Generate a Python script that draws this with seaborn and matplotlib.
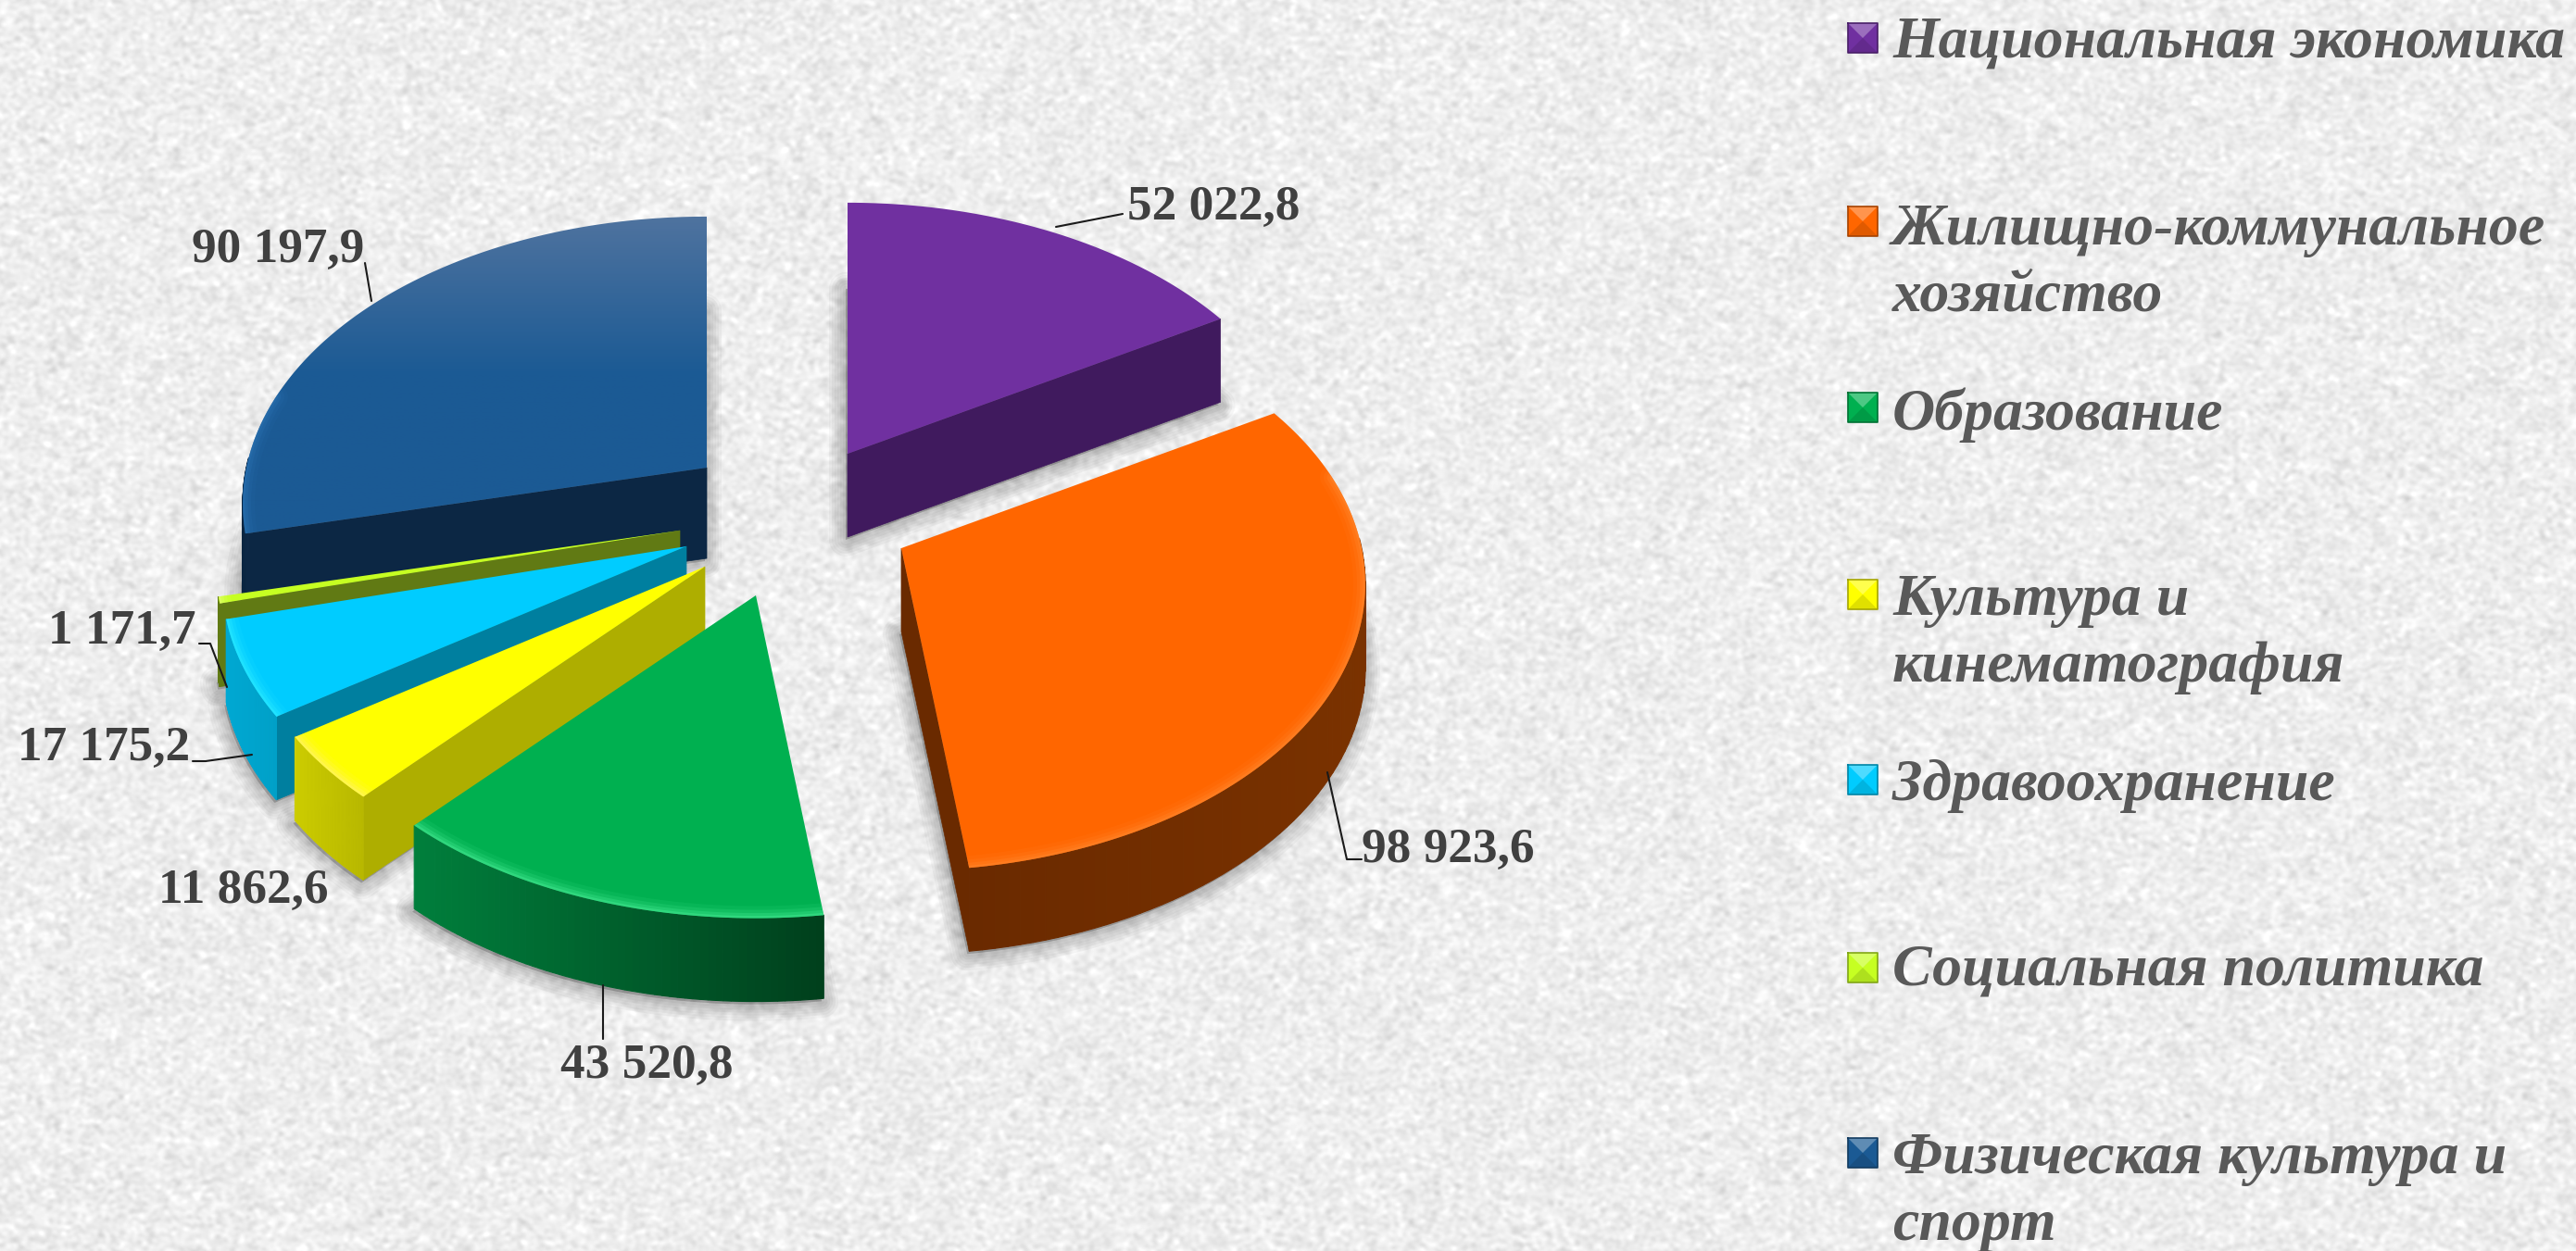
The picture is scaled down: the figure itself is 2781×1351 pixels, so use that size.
import numpy as np
import matplotlib
matplotlib.use("Agg")
import matplotlib.pyplot as plt
from matplotlib.colors import to_rgb
from matplotlib.patches import Polygon
import seaborn as sns

# ---------- data ----------
categories = ["Национальная экономика", "Жилищно-коммунальное\nхозяйство", "Образование",
              "Культура и\nкинематография", "Здравоохранение", "Социальная политика",
              "Физическая культура и\nспорт"]
values = [52022.8, 98923.6, 43520.8, 11862.6, 17175.2, 1171.7, 90197.9]

# ---------- styles / layout (pixels of the 2781x1351 canvas) ----------
top_colors = ["#7030a0", "#ff6600", "#00b050", "#ffff00", "#00ccff", "#c6ff22", "#1b5a94"]
wall_left = ["#3f1a5c", "#6a2a00", "#007f3c", "#cccc00", "#00a8d2", "#617a14", "#0a2540"]
wall_right = ["#3f1a5c", "#7a3200", "#003f1c", "#b8b800", "#00a0c8", "#617a14", "#0d2846"]
radial_wall = ["#401a5e", "#6a2a00", "#004d22", "#aeae00", "#007f9f", "#617a14", "#0c2744"]
glow = [None, "#ff8a33", "#4df09a", "#fff27a", "#33f0ff", "#e8ff80", "#2a73b5"]
depths = [90, 90, 90, 90, 90, 90, 98]
apex = [(915, 490), (973, 592), (816, 643), (761, 612), (741, 590), (734, 573), (763, 505)]
label_xy = [(1310, 224), (1563, 918), (698, 1151), (263, 962), (112, 808), (132, 682), (300, 270)]
leaders = [[(1140, 245), (1212, 231)], [(1433, 834), (1454, 928), (1470, 928)],
           [(651, 1064), (651, 1122)], [], [(208, 822), (222, 822), (272, 815)],
           [(215, 695), (227, 695), (245, 742)], [(394, 284), (401, 325)]]
legend_icon_y = [41, 239, 440, 642, 842, 1045, 1245]
legend_text_y = [47, 285, 448, 685, 849, 1049, 1288]
A, B, K = 497.0, 305.0, 0.125

sns.set_theme(style="white")
plt.rcParams["font.family"] = ["Liberation Serif", "DejaVu Serif"]
palette = sns.color_palette(top_colors)

fig = plt.figure(figsize=(27.81, 13.51), dpi=100)
ax = fig.add_axes([0, 0, 1, 1])
ax.set_xlim(0, 2781)
ax.set_ylim(1351, 0)
ax.axis("off")

# paper-like background texture (decoration only, carries no chart data)
rng = np.random.default_rng(7)
tex = rng.normal(size=(1351, 2781))
for s0, s1 in [(1, 1), (1, 2), (2, 2)]:
    t = tex.copy()
    for i in range(1, s0 + 1):
        t += np.roll(tex, i, 0) + np.roll(tex, -i, 0)
    tex = t
    t = tex.copy()
    for i in range(1, s1 + 1):
        t += np.roll(tex, i, 1) + np.roll(tex, -i, 1)
    tex = t
tex = tex / tex.std()
bg = np.clip(0.93 + 0.024 * tex, 0, 1)
ax.imshow(bg, cmap="gray", vmin=0, vmax=1, extent=(0, 2781, 1351, 0), aspect="auto",
          interpolation="bilinear", zorder=0)


def rim(theta, c):
    t = np.radians(theta)
    w = 1 + K * np.cos(t)
    return c[0] + A * np.sin(t) / w, c[1] - B * np.cos(t) / w


def mix(c1, c2, f):
    a, b = np.array(to_rgb(c1)), np.array(to_rgb(c2))
    return tuple(a + (b - a) * f)


edges = np.concatenate([[0], np.cumsum(values)]) / np.sum(values) * 360
order = [6, 5, 4, 3, 2, 0, 1]
z = 2
for i in order:
    a0, a1 = edges[i], edges[i + 1]
    th = np.linspace(a0, a1, 120)
    c = apex[i]
    d = depths[i]
    xs, ys = rim(th, c)
    px = np.concatenate([[c[0]], xs])
    py = np.concatenate([[c[1]], ys])

    # soft drop shadow below the extruded slice
    for lw in range(36, 0, -6):
        ax.fill(px - 2, py + d + 3, fc=(0, 0, 0, 0.035), ec=(0, 0, 0, 0.035), lw=lw * 0.72,
                joinstyle="round", zorder=z)
    z += 1

    # radial walls that face the viewer
    if a0 > 180:
        x1, y1 = rim(a0, c)
        ax.fill([c[0], x1, x1, c[0]], [c[1], y1, y1 + d, c[1] + d],
                color=radial_wall[i], lw=0.5, zorder=z)
    if a1 < 180:
        x1, y1 = rim(a1, c)
        ax.fill([c[0], x1, x1, c[0]], [c[1], y1, y1 + d, c[1] + d],
                color=radial_wall[i], lw=0.5, zorder=z)
    z += 1

    # outer rim wall with a left-to-right shading
    lo, hi = max(a0, 88), min(a1, 272)
    if hi > lo:
        wt = np.linspace(lo, hi, 60)
        wx, wy = rim(wt, c)
        xl, xr = wx.min(), wx.max()
        for j in range(len(wt) - 1):
            f = (0.5 * (wx[j] + wx[j + 1]) - xl) / max(xr - xl, 1)
            ax.fill([wx[j], wx[j + 1], wx[j + 1], wx[j]],
                    [wy[j], wy[j + 1], wy[j + 1] + d, wy[j] + d],
                    color=mix(wall_left[i], wall_right[i], f), lw=0.8, zorder=z)
    z += 1

    # top face
    if i == 6:
        clip = Polygon(np.column_stack([px, py]), closed=True, transform=ax.transData, fc="none", ec="none")
        ax.add_patch(clip)
        grad = np.array([mix("#4f739f", "#1b5a94", min(v / 0.5, 1)) for v in np.linspace(0, 1, 256)])[:, None, :]
        im = ax.imshow(grad, extent=(px.min(), px.max(), py.max(), py.min()), aspect="auto", zorder=z)
        im.set_clip_path(clip)
        ax.set_xlim(0, 2781)
        ax.set_ylim(1351, 0)
    else:
        clip, = ax.fill(px, py, color=palette[i], lw=0, zorder=z)
    z += 1

    # bevel glow along the front of the outer edge
    if glow[i] is not None:
        bt = np.linspace(max(a0, 75), min(a1, 285), 80) if min(a1, 285) > max(a0, 75) else th
        bx, by = rim(bt, c)
        for lw, al in [(26, 0.10), (18, 0.16), (11, 0.25), (5, 0.35)]:
            ln, = ax.plot(bx, by, color=glow[i], lw=lw * 0.72, alpha=al, zorder=z,
                          solid_capstyle="round")
            ln.set_clip_path(clip)
    z += 1

# leader lines
for pts in leaders:
    if pts:
        arr = np.array(pts)
        ax.plot(arr[:, 0], arr[:, 1], color="#1a1a1a", lw=1.5, zorder=z)
z += 1


def fmt(v):
    whole, dec = f"{v:.1f}".split(".")
    return f"{int(whole):,}".replace(",", " ") + "," + dec


for v, (x, y) in zip(values, label_xy):
    ax.text(x, y, fmt(v), ha="center", va="center", fontsize=38.3, fontweight="bold",
            color="#404040", zorder=z)

# legend
ICON = 32
for i, name in enumerate(categories):
    x0, y0 = 1995, legend_icon_y[i] - ICON / 2
    col = top_colors[i]
    ax.fill([x0, x0 + ICON, x0 + ICON, x0], [y0, y0, y0 + ICON, y0 + ICON], color=col, lw=0, zorder=z)
    cx, cy = x0 + ICON / 2, y0 + ICON / 2
    ax.fill([x0, x0 + ICON, cx], [y0, y0, cy], color=mix(col, "#ffffff", 0.3), lw=0, zorder=z)
    ax.fill([x0, x0 + ICON, cx], [y0 + ICON, y0 + ICON, cy], color=mix(col, "#000000", 0.12), lw=0, zorder=z)
    ax.plot([x0, x0 + ICON, x0 + ICON, x0, x0], [y0, y0, y0 + ICON, y0 + ICON, y0],
            color=mix(col, "#000000", 0.35), lw=1.2, zorder=z)
    ax.text(2043, legend_text_y[i], name, ha="left", va="center", fontsize=46, fontweight="bold",
            fontstyle="italic", color="#595959", linespacing=1.3, zorder=z)

fig.savefig("out.png", dpi=100)
